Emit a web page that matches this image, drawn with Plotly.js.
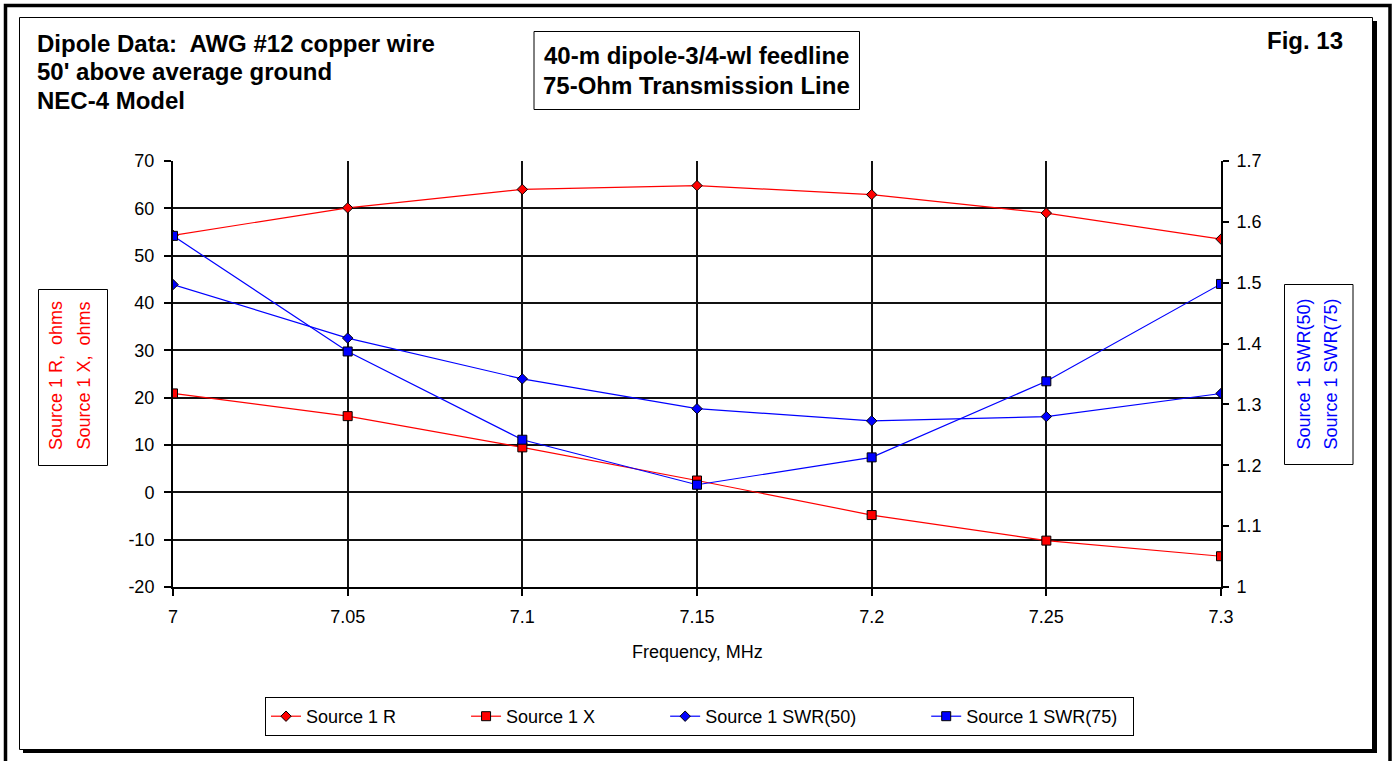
<!DOCTYPE html>
<html><head><meta charset="utf-8">
<script src="https://cdn.plot.ly/plotly-3.0.1.min.js"></script>
<style>html,body{margin:0;padding:0;background:#fff;overflow:hidden}#chart{width:1395px;height:761px}</style>
</head><body><div id="chart"></div>
<script>
// ---- data ----
const freqMHz = [7, 7.05, 7.1, 7.15, 7.2, 7.25, 7.3];
const freqTickLabels = ["7", "7.05", "7.1", "7.15", "7.2", "7.25", "7.3"];
const sourceR = [54.3, 60.1, 64.0, 64.8, 62.9, 59.0, 53.5];
const sourceX = [20.9, 16.1, 9.5, 2.5, -4.8, -10.2, -13.5];
const swr50 = [1.497, 1.409, 1.342, 1.293, 1.273, 1.280, 1.318];
const swr75 = [1.577, 1.387, 1.242, 1.168, 1.213, 1.338, 1.498];
const seriesNames = ["Source 1 R", "Source 1 X", "Source 1 SWR(50)", "Source 1 SWR(75)"];
const leftTickVals = [-20, -10, 0, 10, 20, 30, 40, 50, 60, 70];
const leftTickLabels = ["-20", "-10", "0", "10", "20", "30", "40", "50", "60", "70"];
const rightTickVals = [1, 1.1, 1.2, 1.3, 1.4, 1.5, 1.6, 1.7];
const rightTickLabels = ["1", "1.1", "1.2", "1.3", "1.4", "1.5", "1.6", "1.7"];
const headerLines = ["Dipole Data:\u00a0 AWG #12 copper wire", "50' above average ground", "NEC-4 Model"];
const boxLines = ["40-m dipole-3/4-wl feedline", "75-Ohm Transmission Line"];
const figLabel = "Fig. 13";
const leftTitles = ["Source 1 R,\u00a0 ohms", "Source 1 X,\u00a0 ohms"];
const rightTitles = ["Source 1 SWR(50)", "Source 1 SWR(75)"];
const xTitle = "Frequency, MHz";

// ---- layout geometry ----
const W = 1395, H = 761;
const M = {l: 173, r: 174, t: 161, b: 174};
const PW = W - M.l - M.r, PH = H - M.t - M.b;
const px = v => (v - M.l) / PW;
const py = v => (H - M.b - v) / PH;
const FONT = "Liberation Sans, Arial, sans-serif";
const RED = "#ff0000", BLUE = "#0000ff";

const gapPad = "\u00a0".repeat(13);
const endPad = "\u00a0".repeat(2);
function tr(x, y, name, color, symbol, size, axis, legendPad) {
  return {
    x: x, y: y, name: name + legendPad, yaxis: axis, type: "scatter", mode: "lines+markers",
    line: {color: color, width: 1.2},
    marker: {symbol: symbol, size: size, color: color, line: {color: "#000", width: 1}}
  };
}
const traces = [
  tr(freqMHz, sourceR, seriesNames[0], RED, "diamond", 8, "y", gapPad),
  tr(freqMHz, sourceX, seriesNames[1], RED, "square", 9, "y", gapPad),
  tr(freqMHz, swr50, seriesNames[2], BLUE, "diamond", 8, "y2", gapPad),
  tr(freqMHz, swr75, seriesNames[3], BLUE, "square", 9, "y2", endPad)
];

function rect(x0, y0, x1, y1, lw, fill) {
  return {type: "rect", xref: "paper", yref: "paper", x0: px(x0), x1: px(x1), y0: py(y0), y1: py(y1),
    line: {color: "#000", width: lw}, fillcolor: fill || "rgba(0,0,0,0)", layer: "above"};
}
const shapes = [
  rect(5.5, 5.5, 1390, 790, 3.5),
  rect(19.5, 17.5, 1372.5, 749.5, 1),
  rect(1372, 21, 1377, 753, 0, "#000"),
  rect(23, 749, 1377, 753, 0, "#000"),
  rect(534, 31.5, 859.5, 109.5, 1),
  rect(38.5, 289.5, 107.5, 465.5, 1),
  rect(1284.5, 284.5, 1353, 464.5, 1)
];

function ann(text, x, y, opts) {
  return Object.assign({text: text, xref: "paper", yref: "paper", x: px(x), y: py(y), showarrow: false,
    xanchor: "center", yanchor: "middle", font: {family: FONT, size: 18, color: "#000"}}, opts || {});
}
const bold = {family: FONT, size: 24, color: "#000"};
const annotations = [
  ann("<b>" + headerLines[0] + "</b>", 35, 43, {xanchor: "left", font: bold}),
  ann("<b>" + headerLines[1] + "</b>", 35, 71, {xanchor: "left", font: bold}),
  ann("<b>" + headerLines[2] + "</b>", 35, 100, {xanchor: "left", font: bold}),
  ann("<b>" + boxLines[0] + "</b>", 696, 55.5, {font: bold}),
  ann("<b>" + boxLines[1] + "</b>", 696, 85, {font: bold}),
  ann("<b>" + figLabel + "</b>", 1345, 41, {xanchor: "right", font: bold}),
  ann(leftTitles[0], 56, 376, {textangle: -90, font: {family: FONT, size: 18, color: RED}}),
  ann(leftTitles[1], 83.5, 376, {textangle: -90, font: {family: FONT, size: 18, color: RED}}),
  ann(rightTitles[0], 1303.5, 374, {textangle: -90, font: {family: FONT, size: 18, color: BLUE}}),
  ann(rightTitles[1], 1330.5, 374, {textangle: -90, font: {family: FONT, size: 18, color: BLUE}}),
  ann(xTitle, 697, 652)
];

const tickFont = {family: FONT, size: 18, color: "#000"};
const GRID = "#111";
const layout = {
  width: W, height: H, margin: M, paper_bgcolor: "#fff", plot_bgcolor: "#fff",
  showlegend: true, hovermode: false,
  xaxis: {range: [7, 7.3], tickmode: "array", tickvals: freqMHz, ticktext: freqTickLabels,
    showgrid: true, gridcolor: GRID, gridwidth: 2, zeroline: false,
    showline: true, linecolor: "#000", linewidth: 2, ticks: "outside", ticklen: 7, tickwidth: 2, tickcolor: "#000",
    tickfont: tickFont, ticklabelstandoff: 5},
  yaxis: {range: [-20, 70], tickmode: "array", tickvals: leftTickVals, ticktext: leftTickLabels,
    showgrid: true, gridcolor: GRID, gridwidth: 2, zeroline: false,
    showline: true, linecolor: "#000", linewidth: 2, ticks: "outside", ticklen: 7, tickwidth: 2, tickcolor: "#000",
    tickfont: tickFont, ticklabelstandoff: 6},
  yaxis2: {range: [1, 1.7], overlaying: "y", side: "right", tickmode: "array", tickvals: rightTickVals, ticktext: rightTickLabels,
    showgrid: false, zeroline: false,
    showline: true, linecolor: "#000", linewidth: 2, ticks: "outside", ticklen: 6, tickwidth: 2, tickcolor: "#000",
    tickfont: tickFont, ticklabelstandoff: 4},
  legend: {orientation: "h", x: px(699.5), xanchor: "center", y: py(697), yanchor: "top",
    bordercolor: "#000", borderwidth: 1, bgcolor: "#fff", font: {family: FONT, size: 18, color: "#000"}},
  shapes: shapes, annotations: annotations
};
Plotly.newPlot("chart", traces, layout, {staticPlot: true, displayModeBar: false});
</script>
</body></html>
